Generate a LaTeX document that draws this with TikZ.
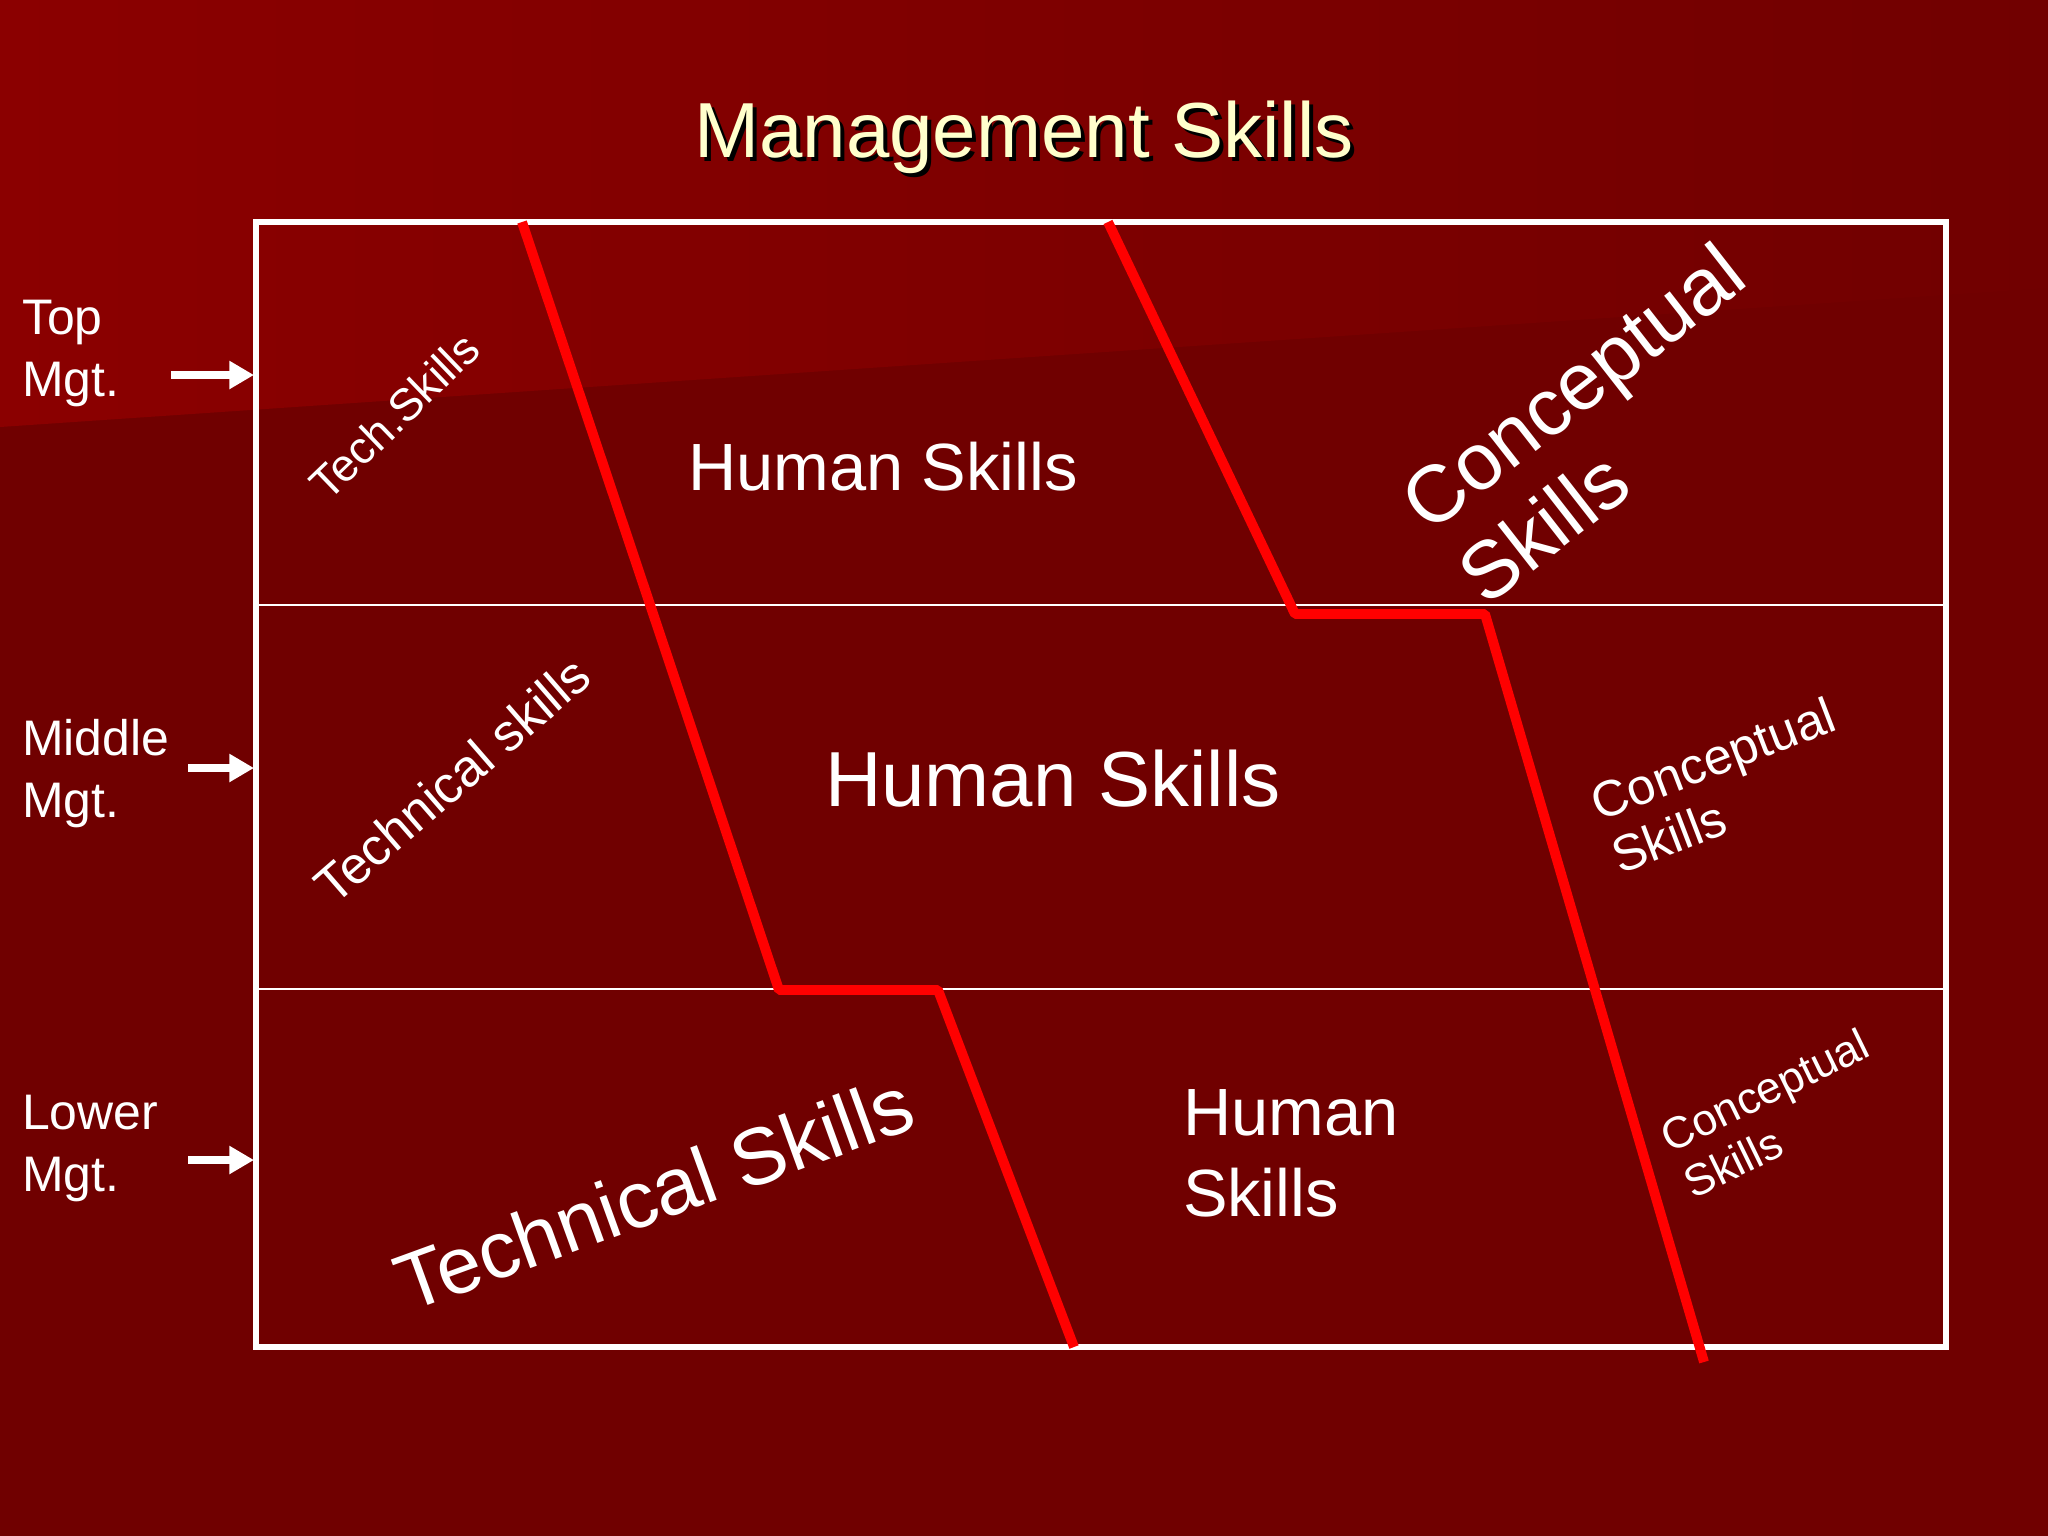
\documentclass[tikz,border=0pt]{standalone}
\usepackage{fontspec}
\setmainfont{Liberation Sans}
\usetikzlibrary{arrows.meta}
\definecolor{bgdark}{RGB}{112,0,0}
\definecolor{bglight}{RGB}{139,0,0}
\definecolor{bgmid}{RGB}{113,0,0}
\definecolor{cream}{RGB}{255,255,204}
\definecolor{redline}{RGB}{255,0,0}
\newcommand\fsz[2]{\fontsize{#1}{#2}\selectfont}
\begin{document}
\begin{tikzpicture}[x=0.01cm,y=-0.01cm,
  every node/.style={inner sep=0pt, outer sep=0pt},
  lbl/.style={text=white, align=left},
  boxline/.style={draw=white, line width=1.56pt},
  divline/.style={draw=white, line width=0.7pt},
  redl/.style={draw=redline, line width=2.8pt, line join=bevel},
  lvlarrow/.style={draw=white, line width=2.28pt, -{Triangle[length=7pt,width=7.6pt]}},
]
\useasboundingbox (0,0) rectangle (2048,1536);
% background
\fill[bgdark] (0,0) rectangle (2048,1536);
\shade[left color=bglight, right color=bgmid] (0,0) -- (2048,0) -- (2048,288) -- (0,427) -- cycle;

% title
\node[text=black, anchor=base, font=\fsz{22.2}{26}] (titleshadow) at (1028,161) {Management Skills};
\node[text=cream, anchor=base, font=\fsz{22.2}{26}] (title) at (1024,157) {Management Skills};

% grid
\coordinate (tl) at (256,222);
\coordinate (br) at (1946,1347);
\draw[boxline] (tl) rectangle (br);
\coordinate (d1l) at (256,605);
\coordinate (d1r) at (1946,605);
\coordinate (d2l) at (256,989);
\coordinate (d2r) at (1946,989);
\draw[divline] (d1l) -- (d1r);
\draw[divline] (d2l) -- (d2r);

% level labels
\node[lbl, anchor=north west, font=\fsz{14.2}{17.6}] (top) at (22,300) {Top\\Mgt.};
\node[lbl, anchor=north west, font=\fsz{14.2}{17.6}] (mid) at (22,719) {Middle\\Mgt.};
\node[lbl, anchor=north west, font=\fsz{14.2}{17.6}] (low) at (22,1095) {Lower\\Mgt.};
\coordinate (a1s) at (171,375);
\coordinate (a1e) at (254,375);
\coordinate (a2s) at (188,768);
\coordinate (a2e) at (254,768);
\coordinate (a3s) at (188,1160);
\coordinate (a3e) at (254,1160);
\draw[lvlarrow] (a1s) -- (a1e);
\draw[lvlarrow] (a2s) -- (a2e);
\draw[lvlarrow] (a3s) -- (a3e);

% red boundaries
\coordinate (r1a) at (522,222);
\coordinate (r1b) at (779,990);
\coordinate (r1c) at (938,990);
\coordinate (r1d) at (1074,1347);
\draw[redl] (r1a) -- (r1b) -- (r1c) -- (r1d);
\coordinate (r2a) at (1108,222);
\coordinate (r2b) at (1295,614);
\coordinate (r2c) at (1485,614);
\coordinate (r2d) at (1704,1362);
\draw[redl] (r2a) -- (r2b) -- (r2c) -- (r2d);

% cell texts
\node[lbl, rotate=44, font=\fsz{12.9}{15}] (techA) at (394,416) {Tech.Skills};
\node[lbl, anchor=base west, font=\fsz{19}{23}] (humA) at (688,490) {Human Skills};
\node[lbl, rotate=38, font=\fsz{22.9}{26.4}] (concA) at (1601,423) {Conceptual\\Skills};

\node[lbl, rotate=41, font=\fsz{14.8}{17}] (techB) at (452,780) {Technical skills};
\node[lbl, anchor=base west, font=\fsz{22.2}{26}] (humB) at (825,806) {Human Skills};
\node[lbl, rotate=21, font=\fsz{14.4}{16.2}] (concB) at (1723,785) {Conceptual\\Skills};

\node[lbl, rotate=20, font=\fsz{22.8}{26}] (techC) at (654,1193) {Technical Skills};
\node[lbl, anchor=north west, font=\fsz{19}{23}] (humC) at (1183,1090) {Human\\Skills};
\node[lbl, rotate=26, font=\fsz{12.6}{14.6}] (concC) at (1776,1113) {Conceptual\\Skills};
\end{tikzpicture}
\end{document}
